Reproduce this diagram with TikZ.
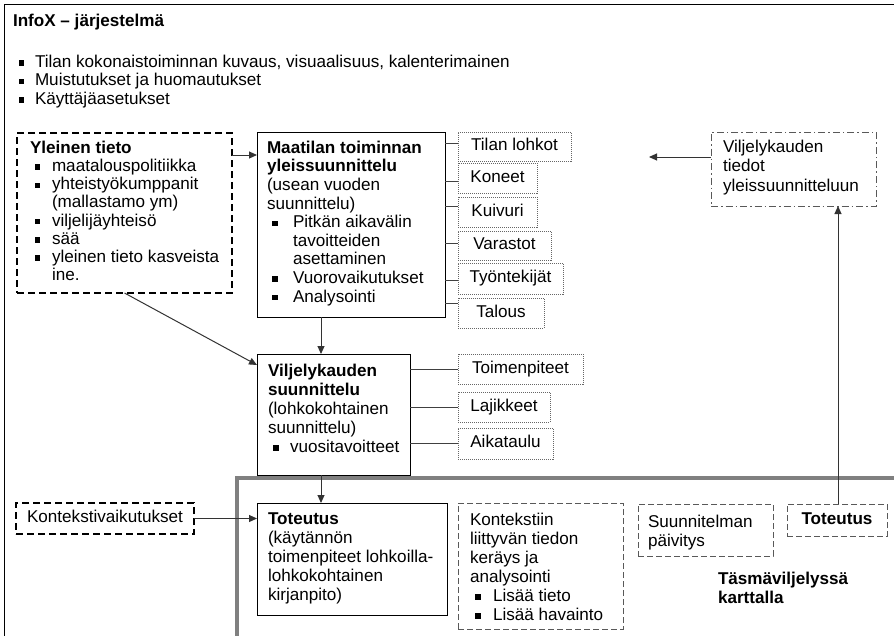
\documentclass[tikz,border=0pt]{standalone}
\usepackage{fontspec}
\setmainfont{Liberation Sans}
\usetikzlibrary{arrows.meta}
% small square bullet and list-line helpers
\newcommand\bsq{\rule[1.7pt]{5.5pt}{5.5pt}}
\newcommand\itm[2][23pt]{\makebox[#1][l]{\hspace{5pt}\bsq}#2}
\newcommand\cnt[2][23pt]{\makebox[#1]{}#2}
\newcommand\fsz[1]{\fontsize{17.1}{#1}\selectfont}

\begin{document}
\begin{tikzpicture}[x=1pt,y=-1pt,
  plain/.style={inner sep=0pt, outer sep=0pt},
  txt/.style={plain, anchor=north west, align=left, font=\fsz{18.6}},
  solidbox/.style={plain, anchor=north west, draw=black, line width=1pt},
  dotbox/.style={plain, anchor=north west, draw=black!60, line width=0.8pt,
    dash pattern=on 1pt off 1pt, font=\fsz{18.6}, text height=12pt, text depth=3.5pt},
  thickdash/.style={plain, anchor=north west, draw=black, line width=1.9pt,
    dash pattern=on 7pt off 4pt},
  thindash/.style={plain, anchor=north west, draw=black!65, line width=1pt,
    dash pattern=on 6pt off 3pt},
  dashdot/.style={plain, anchor=north west, draw=black!65, line width=1pt,
    dash pattern=on 7pt off 3pt on 1.5pt off 3pt},
  arr/.style={draw=black!80, line width=1pt, -{Triangle[length=8pt,width=7pt]}},
  tick/.style={draw=black!75, line width=1pt},
  region/.style={draw=black!50, line width=4.5pt}
]
\path[use as bounding box] (0,0) rectangle (894,635);
\clip (0,0) rectangle (894,635);

% outer frame of the system
\coordinate (fr1) at (4,640);
\coordinate (fr2) at (4,4);
\coordinate (fr3) at (900,4);
\draw[black, line width=1pt] (fr1) -- (fr2) -- (fr3);

% precision farming region
\coordinate (rg1) at (237,640);
\coordinate (rg2) at (237,478);
\coordinate (rg3) at (900,478);
\draw[region] (rg1) -- (rg2) -- (rg3);

% heading and general list
\node[txt] (title) at (13,14) {\textbf{InfoX – järjestelmä}};
\node[txt] (feat) at (14,55) {\itm[21pt]{Tilan kokonaistoiminnan kuvaus, visuaalisuus, kalenterimainen}\\
  \itm[21pt]{Muistutukset ja huomautukset}\\
  \itm[21pt]{Käyttäjäasetukset}};

% general information
\node[thickdash, minimum width=215pt, minimum height=160pt] (yl) at (17,133) {};
\node[txt, font=\fsz{18.2}] (ylt) at (30,141) {\textbf{Yleinen tieto}\\
  \itm[22pt]{maatalouspolitiikka}\\
  \itm[22pt]{yhteistyökumppanit}\\
  \cnt[22pt]{(mallastamo ym)}\\
  \itm[22pt]{viljelijäyhteisö}\\
  \itm[22pt]{sää}\\
  \itm[22pt]{yleinen tieto kasveista}\\
  \cnt[22pt]{ine.}};

% long-term farm planning
\node[solidbox, minimum width=188pt, minimum height=185pt] (maat) at (257,132) {};
\node[txt] (maatt) at (267,141) {\textbf{Maatilan toiminnan}\\
  \textbf{yleissuunnittelu}\\
  (usean vuoden\\
  suunnittelu)\\
  \itm[26pt]{Pitkän aikavälin}\\
  \cnt[26pt]{tavoitteiden}\\
  \cnt[26pt]{asettaminen}\\
  \itm[26pt]{Vuorovaikutukset}\\
  \itm[26pt]{Analysointi}};

\node[dotbox, minimum width=113pt, minimum height=29pt] (tl) at (458,132) {Tilan lohkot};
\node[dotbox, minimum width=79pt, minimum height=30pt] (kon) at (458,163) {Koneet};
\node[dotbox, minimum width=79pt, minimum height=30pt] (kui) at (458,197) {Kuivuri};
\node[dotbox, minimum width=93pt, minimum height=29pt] (var) at (458,231) {Varastot};
\node[dotbox, minimum width=105pt, minimum height=31pt] (tyo) at (458,263) {Työntekijät};
\node[dotbox, minimum width=86pt, minimum height=30pt] (tal) at (458,298) {Talous};

\draw[tick] ([yshift=-11]tl.north west) -- ([yshift=-11]tl.north west -| maat.east);
\draw[tick] ([yshift=-18]kon.north west) -- ([yshift=-18]kon.north west -| maat.east);
\draw[tick] ([yshift=-9]kui.north west) -- ([yshift=-9]kui.north west -| maat.east);
\draw[tick] ([yshift=-12]var.north west) -- ([yshift=-12]var.north west -| maat.east);
\draw[tick] ([yshift=-17]tyo.north west) -- ([yshift=-17]tyo.north west -| maat.east);
\draw[tick] ([yshift=-5]tal.north west) -- ([yshift=-5]tal.north west -| maat.east);

% season planning
\node[solidbox, minimum width=153pt, minimum height=121pt] (vilj) at (257,354) {};
\node[txt, font=\fsz{19}] (viljt) at (268,364) {\textbf{Viljelykauden}\\
  \textbf{suunnittelu}\\
  (lohkokohtainen\\
  suunnittelu)\\
  \itm[22pt]{vuositavoitteet}};

\node[dotbox, minimum width=125pt, minimum height=30pt] (toi) at (458,354) {Toimenpiteet};
\node[dotbox, minimum width=92pt, minimum height=30pt] (laj) at (458,392) {Lajikkeet};
\node[dotbox, minimum width=95pt, minimum height=31pt] (aik) at (458,428) {Aikataulu};

\draw[tick] (toi.west) -- (toi.west -| vilj.east);
\draw[tick] (laj.west) -- (laj.west -| vilj.east);
\draw[tick] (aik.west) -- (aik.west -| vilj.east);

% season data back to long-term planning
\node[dashdot, minimum width=165pt, minimum height=74pt] (vt) at (711,132) {};
\node[txt, font=\fsz{19.5}] (vtt) at (723,140) {Viljelykauden\\tiedot\\yleissuunnitteluun};

% implementation row
\node[thickdash, minimum width=178pt, minimum height=31pt, font=\fsz{18.6},
  text height=12pt, text depth=3.5pt] (kv) at (16,503) {Kontekstivaikutukset};

\node[solidbox, minimum width=190pt, minimum height=112pt] (tot) at (257,503) {};
\node[txt, font=\fsz{19}] (tott) at (268,513) {\textbf{Toteutus}\\
  (käytännön\\
  toimenpiteet lohkoilla-\\
  lohkokohtainen\\
  kirjanpito)};

\node[thindash, minimum width=165pt, minimum height=126pt] (kt) at (458,503) {};
\node[txt, font=\fsz{19}] (ktt) at (470,513) {Kontekstiin\\
  liittyvän tiedon\\
  keräys ja\\
  analysointi\\
  \itm{Lisää tieto}\\
  \itm{Lisää havainto}};

\node[thindash, minimum width=135pt, minimum height=52pt] (sp) at (638,504) {};
\node[txt, font=\fsz{19}] (spt) at (648,515) {Suunnitelman\\päivitys};

\node[thindash, minimum width=100pt, minimum height=32pt, font=\fsz{18.6},
  text height=12pt, text depth=3.5pt] (tot2) at (787,504) {\textbf{Toteutus}};

\node[txt, font=\fsz{19}] (tas) at (718,572) {\textbf{Täsmäviljelyssä}\\\textbf{karttalla}};

% connectors
\coordinate (a1) at (0,155);
\coordinate (vx) at (321,0);
\coordinate (rx) at (838,0);
\coordinate (vtend) at (649,157);

\draw[arr] (yl.east |- a1) -- (maat.west |- a1);
\draw[arr] (yl.south) -- ([yshift=-11]vilj.north west);
\draw[arr] (maat.south -| vx) -- (vilj.north -| vx);
\draw[arr] (vilj.south -| vx) -- (tot.north -| vx);
\draw[arr] (kv.east) -- (tot.west |- kv.east);
\draw[arr] (tot2.north -| rx) -- (vt.south -| rx);
\draw[arr] (vt.west |- vtend) -- (vtend);
\end{tikzpicture}
\end{document}
